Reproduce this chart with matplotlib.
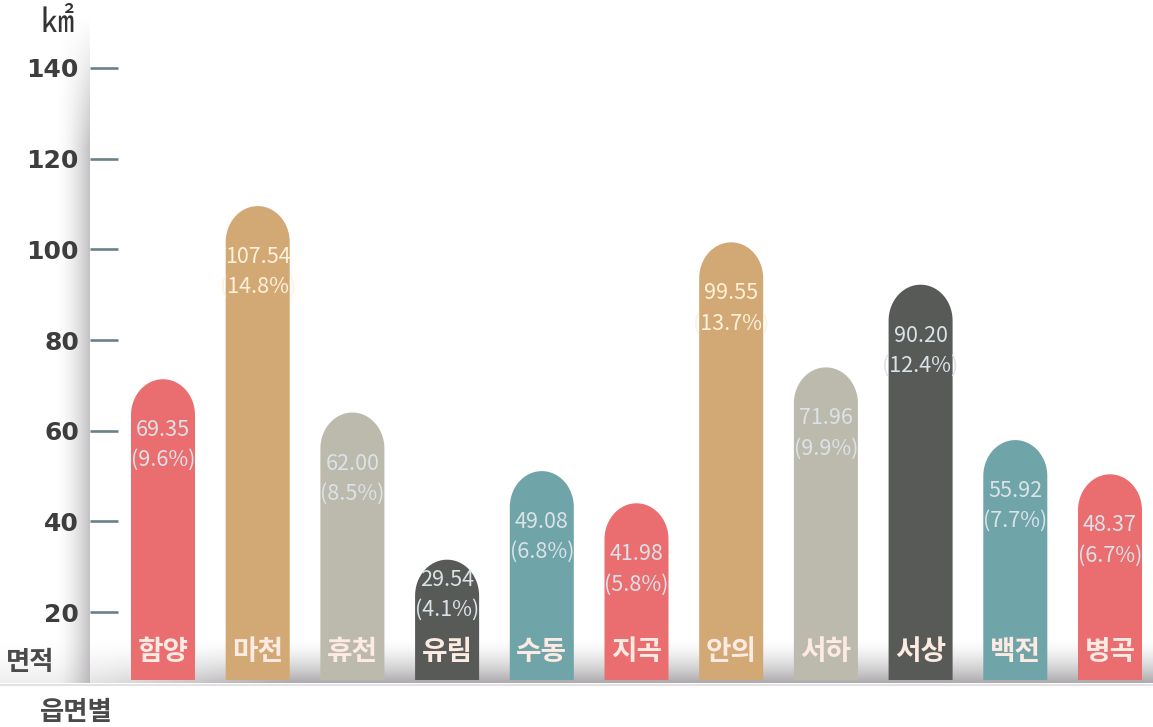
""" 읍면별 면적 막대그래프 (pill bars) """

import numpy as np
import matplotlib
matplotlib.use('Agg')
import matplotlib.pyplot as plt
from matplotlib.patches import Polygon

# data
names = ['함양', '마천', '휴천', '유림', '수동', '지곡', '안의', '서하', '서상', '백전', '병곡']
area = [69.35, 107.54, 62.00, 29.54, 49.08, 41.98, 99.55, 71.96, 90.20, 55.92, 48.37]
share = [9.6, 14.8, 8.5, 4.1, 6.8, 5.8, 13.7, 9.9, 12.4, 7.7, 6.7]
yticks = [20, 40, 60, 80, 100, 120, 140]

RED, TAN, BEIGE, DARK, TEAL = '#ea6e70', '#d2a875', '#bcbaad', '#585a58', '#6fa5a8'
bar_colors = [RED, TAN, BEIGE, DARK, TEAL, RED, TAN, BEIGE, DARK, TEAL, RED]

KR = ['Noto Sans CJK KR', 'DejaVu Sans']

W, H = 1153, 727
fig = plt.figure(figsize=(W / 100, H / 100), dpi=100)

# background shading (pixel coords)
bg = fig.add_axes([0, 0, 1, 1])
bg.set_xlim(0, W)
bg.set_ylim(H, 0)
bg.axis('off')

shade = np.array([0.66, 0.65, 0.66])
# left vertical shadow
ny, nx = 300, 60
gx = np.linspace(0, 1, nx) ** 1.8
gy = np.clip(np.linspace(0, 1, ny) * 5, 0, 1)
img = np.zeros((ny, nx, 4))
img[..., :3] = shade
img[..., 3] = np.outer(gy, gx) * 0.7
bg.imshow(img, extent=[55, 90, 683, 18], aspect='auto', interpolation='bilinear')
# bottom band
ny, nx = 60, 400
gy = np.linspace(0, 1, ny) ** 1.6
gx = np.clip(np.linspace(0, 1, nx) * 4, 0.2, 1)
img = np.zeros((ny, nx, 4))
img[..., :3] = shade
img[..., 3] = np.outer(gy, gx) * 0.95
bg.imshow(img, extent=[0, W, 683, 638], aspect='auto', interpolation='bilinear')
bg.plot([0, W], [685, 685], color='#e2e2e2', lw=1.5)

# main axes
px_per_unit = 90.67 / 20
ax = fig.add_axes([90 / W, (H - 683) / H, (W - 90) / W, 683 / H])
ax.patch.set_alpha(0)
ax.set_ylim(20 - 71 / px_per_unit, 140 + 68 / px_per_unit)
step = 94.7
ax.set_xlim((90 - 163) / step, (W - 163) / step)
for s in ax.spines.values():
    s.set_visible(False)

ax.set_yticks(yticks)
ax.set_xticks([])
ax.tick_params(axis='y', direction='in', length=20, width=1.9, color='#6c808a',
               pad=8, labelsize=18, labelcolor='#3d3d3d')
for t in ax.get_yticklabels():
    t.set_fontweight('bold')
    t.set_family('DejaVu Sans')

base = 5
hw = 0.338
cap = 36 / px_per_unit
t = np.linspace(np.pi, 0, 60)
for i, (v, c) in enumerate(zip(area, bar_colors)):
    top = v + 2
    cy = top - cap
    xs = np.concatenate([[i - hw], i + hw * np.cos(t), [i + hw]])
    ys = np.concatenate([[base], cy + cap * np.sin(t), [base]])
    ax.add_patch(Polygon(np.column_stack([xs, ys]), closed=True, fc=c, ec='none', zorder=2))

    txt = '#fff1dc' if c == TAN else '#dbe3e8'
    ly = max(top - 51 / px_per_unit, 27)
    ax.text(i, ly, '%.2f' % v, ha='center', va='center', fontsize=15.5,
            color=txt, family=KR, zorder=3)
    ax.text(i, ly - 30 / px_per_unit, '(%.1f%%)' % share[i], ha='center', va='center',
            fontsize=15.5, color=txt, family=KR, zorder=3)
    ax.text(i, 20 - 40 / px_per_unit, names[i], ha='center', va='center', fontsize=20,
            color='#fdeae2', family=KR, fontweight='bold', zorder=3)

# axis captions
bg.text(57, 22, '㎢', ha='center', va='center', fontsize=24, color='#333333', family=KR)
bg.text(30, 662, '면적', ha='center', va='center', fontsize=19, color='#4a4a4a',
        family=KR, fontweight='bold')
bg.text(76, 712, '읍면별', ha='center', va='center', fontsize=19, color='#4a4a4a',
        family=KR, fontweight='bold')

fig.savefig('out.png', dpi=100)
